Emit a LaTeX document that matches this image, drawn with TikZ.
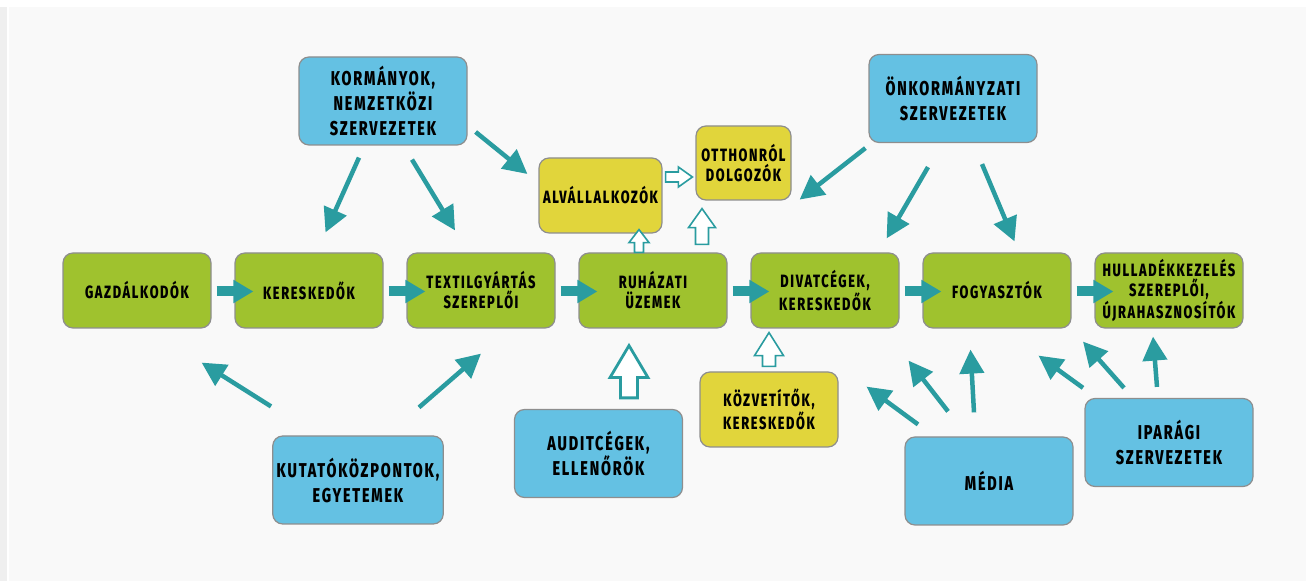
\documentclass[tikz,border=0pt]{standalone}
\usepackage{fontspec}
\setmainfont{Fira Sans}[BoldFont={Fira Sans ExtraBold},FakeStretch=0.72,LetterSpace=9]
\usepackage{tikz}
\usetikzlibrary{positioning,calc,arrows.meta}

\definecolor{chaingreen}{HTML}{9FC22E}
\definecolor{actorblue}{HTML}{64C1E3}
\definecolor{sideyellow}{HTML}{E1D53B}
\definecolor{flowteal}{HTML}{2A9CA0}
\definecolor{boxgray}{HTML}{8E8E8E}
\definecolor{panelgray}{HTML}{F9F9F9}
\definecolor{edgegray}{HTML}{EFEFEF}

\tikzset{
  box/.style={draw=boxgray, line width=0.6pt, rounded corners=5pt, align=center, inner sep=2pt,
    font=\bfseries\fontsize{8.9}{10}\selectfont},
  chain/.style={box, fill=chaingreen, minimum width=74pt, minimum height=37.5pt},
  side/.style={box, fill=sideyellow, minimum height=37.5pt},
  actor/.style={box, fill=actorblue, minimum width=84pt, minimum height=44pt,
    font=\bfseries\fontsize{10}{12.5}\selectfont},
  flow/.style={flowteal, line width=2.25pt, -{Triangle[length=12pt,width=12pt]}},
  chainflow/.style={flowteal, line width=5pt, -{Triangle[length=10pt,width=11pt]}},
  hollow/.style={draw=flowteal, fill=white, line width=0.8pt, line join=miter}
}

% hollow block arrow: from, to, half shaft, half head, head length
\newcommand{\hollowarrow}[6][]{%
  \draw[hollow,#1] let \p1=#2, \p2=#3, \n1={atan2(\y2-\y1,\x2-\x1)}, \n2={veclen(\x2-\x1,\y2-\y1)} in
    ([shift={(\p1)},rotate=\n1]0pt,#4) -- ([shift={(\p1)},rotate=\n1]\n2-#6,#4)
    -- ([shift={(\p1)},rotate=\n1]\n2-#6,#5) -- ([shift={(\p1)},rotate=\n1]\n2,0pt)
    -- ([shift={(\p1)},rotate=\n1]\n2-#6,-#5) -- ([shift={(\p1)},rotate=\n1]\n2-#6,-#4)
    -- ([shift={(\p1)},rotate=\n1]0pt,-#4) -- cycle;}

\begin{document}
\begin{tikzpicture}[x=0.5pt, y=-0.5pt]
    % Background
    \useasboundingbox (0,0) rectangle (1310,581);
    \fill[white] (0,0) rectangle (1310,581);
    \fill[edgegray] (0,7) rectangle (7,581);
    \fill[panelgray] (9,7) rectangle (1306,581);

    % Supply chain
    \node[chain] (gazd) at (137,290.5) {GAZDÁLKODÓK};
    \node[chain, right=11.4pt of gazd] (keresk) {KERESKEDŐK};
    \node[chain, right=11.4pt of keresk] (textil) {TEXTILGYÁRTÁS\\SZEREPLŐI};
    \node[chain, right=11.4pt of textil] (ruh) {RUHÁZATI\\ÜZEMEK};
    \node[chain, right=11.4pt of ruh] (divat) {DIVATCÉGEK,\\KERESKEDŐK};
    \node[chain, right=11.4pt of divat] (fogy) {FOGYASZTÓK};
    \node[chain, right=11.4pt of fogy] (hull) {HULLADÉKKEZELÉS\\SZEREPLŐI,\\ÚJRAHASZNOSÍTÓK};

    % Side actors
    \node[side, minimum width=60.5pt] (alv) at (600.5,195.5) {ALVÁLLALKOZÓK};
    \node[side, minimum width=47.5pt, minimum height=37pt] (otth) at (743.5,163) {OTTHONRÓL\\DOLGOZÓK};
    \node[side, minimum width=69pt] (koz) at (769,409.5) {KÖZVETÍTŐK,\\KERESKEDŐK};

    % Stakeholders
    \node[actor] (korm) at (383,101) {KORMÁNYOK,\\NEMZETKÖZI\\SZERVEZETEK};
    \node[actor] (onk) at (953,98.5) {ÖNKORMÁNYZATI\\SZERVEZETEK};
    \node[actor] (kut) at (358,480) {KUTATÓKÖZPONTOK,\\EGYETEMEK};
    \node[actor] (audit) at (598.5,453.5) {AUDITCÉGEK,\\ELLENŐRÖK};
    \node[actor] (media) at (989,481) {MÉDIA};
    \node[actor] (ipar) at (1169,442.5) {IPARÁGI\\SZERVEZETEK};

    % Chain links
    \foreach \a/\b in {gazd/keresk, keresk/textil, textil/ruh, ruh/divat, divat/fogy, fogy/hull}
        \draw[chainflow] ([shift={(5,1)}]\a.east) -- ([shift={(19,1)}]\b.west);

    % Influence
    \draw[flow] ([shift={(-24,12)}]korm.south) -- ([shift={(16.5,-20)}]keresk.north);
    \draw[flow] ([shift={(29,14)}]korm.south) -- ([shift={(-26,-22)}]textil.north);
    \draw[flow] ([shift={(8,31)}]korm.east) -- ([shift={(-11,-21.5)}]alv.west);
    \draw[flow] ([shift={(-3,5)}]onk.south west) -- ([shift={(8,-1)}]otth.south east);
    \draw[flow] ([shift={(-25,24)}]onk.south) -- ([shift={(-13,-14)}]divat.north east);
    \draw[flow] ([shift={(29,21)}]onk.south) -- ([shift={(17.5,-11)}]fogy.north);
    \draw[flow] ([shift={(-87,-29)}]kut.north) -- ([shift={(-10,34)}]gazd.south east);
    \draw[flow] ([shift={(61,-28)}]kut.north) -- ([shift={(0,25)}]textil.south);
    \draw[flow] ([shift={(-71,-12)}]media.north) -- ([shift={(-130.5,58)}]fogy.south);
    \draw[flow] ([shift={(-41,-25)}]media.north) -- ([shift={(-88.5,32)}]fogy.south);
    \draw[flow] ([shift={(-15,-24)}]media.north) -- ([shift={(-26.5,21)}]fogy.south);
    \draw[flow] ([shift={(-86,-10)}]ipar.north) -- ([shift={(41.5,27)}]fogy.south);
    \draw[flow] ([shift={(-45,-10)}]ipar.north) -- ([shift={(-86,13)}]hull.south);
    \draw[flow] ([shift={(-12,-11)}]ipar.north) -- ([shift={(-16,8)}]hull.south);

    % Outsourcing
    \hollowarrow{([shift={(3,-18.5)}]alv.east)}{([shift={(-3,14)}]otth.west)}{2.5pt}{5pt}{7pt}
    \hollowarrow{([shift={(-14,0)}]ruh.north)}{([shift={(38.5,-4)}]alv.south)}{2.25pt}{5pt}{6.5pt}
    \hollowarrow{([shift={(49,-8)}]ruh.north)}{([shift={(-41.5,8)}]otth.south)}{3.25pt}{6.75pt}{9.5pt}
    \hollowarrow[line width=1.4pt]{([shift={(30.5,-11)}]audit.north)}{([shift={(-24,17)}]ruh.south)}{4.25pt}{9.5pt}{16pt}
    \hollowarrow{([shift={(0,-5)}]koz.north)}{([shift={(-56,4)}]divat.south)}{3.25pt}{7.25pt}{11.5pt}

\end{tikzpicture}
\end{document}
